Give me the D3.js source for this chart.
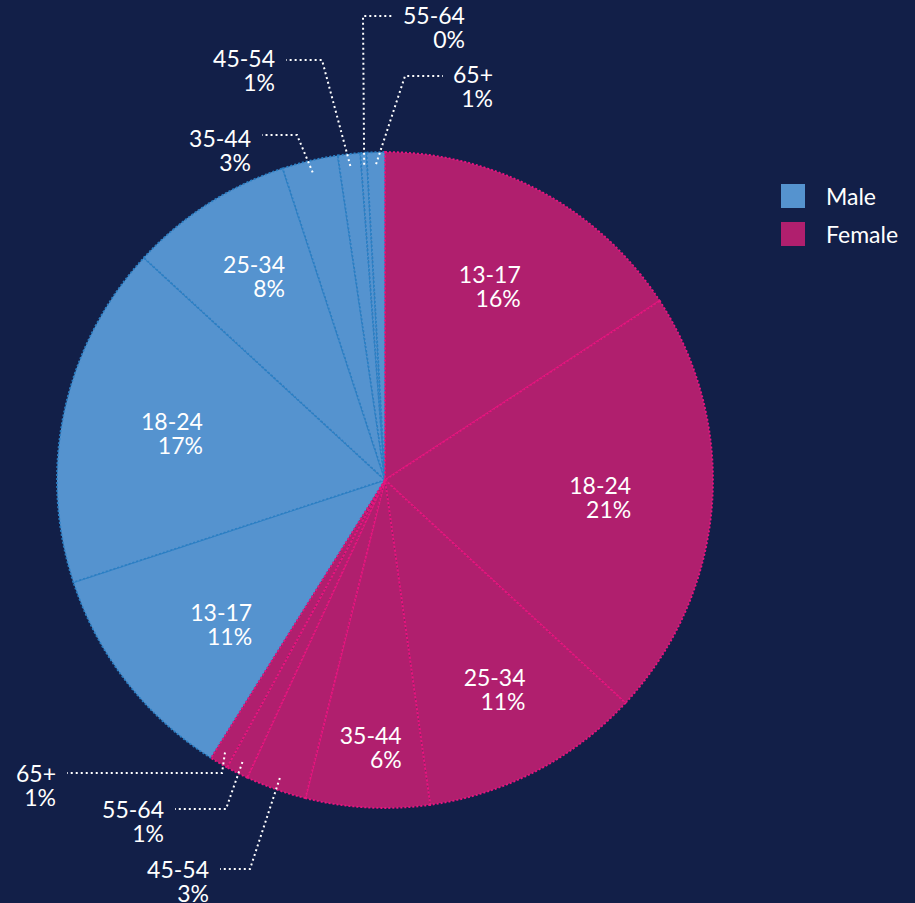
<!DOCTYPE html>
<html>
<head>
<meta charset="utf-8">
<script src="https://cdn.jsdelivr.net/npm/d3@7"></script>
<style>
  html, body { margin: 0; padding: 0; background: #121f48; }
  svg { display: block; }
  text { font-family: Lato, "Open Sans", sans-serif; font-size: 23px; fill: #ffffff; }
</style>
</head>
<body>
<svg width="915" height="903"></svg>
<script>
// chart data (share of audience, %)
var ageGroups = ["13-17", "18-24", "25-34", "35-44", "45-54", "55-64", "65+"];
var femaleShare = [15.8, 21.1, 10.9, 6.1, 3.0, 1.1, 0.9];
var maleShare = [11.05, 16.9, 8.1, 2.75, 1.1, 0.3, 0.9];
var genders = ["Male", "Female"];

var svg = d3.select("svg"),
    width = +svg.attr("width"),
    height = +svg.attr("height");

var cx = 385, cy = 480, radius = 328;

var color = d3.scaleOrdinal().domain(genders).range(["#5593cf", "#b01f6e"]);
var edge = d3.scaleOrdinal().domain(genders).range(["#2a7fc4", "#e8157f"]);

// flatten into slices, female first (starts at 12 o'clock), then male
var slices = [];
ageGroups.forEach(function (a, i) { slices.push({ gender: "Female", age: a, value: femaleShare[i] }); });
ageGroups.forEach(function (a, i) { slices.push({ gender: "Male", age: a, value: maleShare[i] }); });

var pie = d3.pie().sort(null).value(function (d) { return d.value; });
var arcs = pie(slices);
var arc = d3.arc().innerRadius(0).outerRadius(radius);

var g = svg.append("g").attr("transform", "translate(" + cx + "," + cy + ")");

// male first so the pink borders sit on top
var ordered = arcs.filter(function (d) { return d.data.gender === "Male"; })
  .concat(arcs.filter(function (d) { return d.data.gender === "Female"; }));

g.selectAll("path.slice")
  .data(ordered)
  .enter().append("path")
  .attr("class", "slice")
  .attr("d", arc)
  .attr("fill", function (d) { return color(d.data.gender); })
  .attr("stroke", function (d) { return edge(d.data.gender); })
  .attr("stroke-width", 1.8)
  .attr("stroke-dasharray", "2,2");

function key(d) { return d.data.gender + " " + d.data.age; }
function pct(d) { return Math.round(d.data.value) + "%"; }
function polar(r, a) { return [r * Math.sin(a), -r * Math.cos(a)]; }

// labels inside the big slices (radius per slice, da = angle nudge in degrees)
var innerLayout = {
  "Female 13-17": { r: 220 }, "Female 18-24": { r: 216 }, "Female 25-34": { r: 237 },
  "Female 35-44": { r: 268 }, "Male 13-17": { r: 219, da: -3.5 }, "Male 18-24": { r: 218 },
  "Male 25-34": { r: 242 }
};

// right aligned two-line block, one text element with a tspan per line
function block(sel, lines, anchorX, baseY, side) {
  var t = sel.append("text").attr("text-anchor", "end");
  var spans = lines.map(function (s, i) {
    return t.append("tspan").attr("y", baseY + i * 24).text(s);
  });
  var w = d3.max(spans, function (sp) { return sp.node().getComputedTextLength(); });
  var right = side === "start" ? anchorX + w : (side === "middle" ? anchorX + w / 2 : anchorX);
  spans.forEach(function (sp) { sp.attr("x", right); });
}

arcs.forEach(function (d) {
  var lay = innerLayout[key(d)];
  if (!lay) return;
  var a = (d.startAngle + d.endAngle) / 2 + (lay.da || 0) * Math.PI / 180;
  var p = polar(lay.r, a);
  block(g, [d.data.age, pct(d)], p[0], p[1] - 4, "middle");
});

// callouts for the small slices: elbow point and end of the horizontal run
var callouts = {
  "Male 35-44": { elbow: [-88, -345], endX: -123, ty: 12 },
  "Male 45-54": { elbow: [-63, -420], endX: -99, ty: 7 },
  "Male 55-64": { elbow: [-22, -464], endX: 8, ty: 8 },
  "Male 65+": { elbow: [20, -404], endX: 58, ty: 7 },
  "Female 65+": { elbow: [-163, 293], endX: -318, ty: 9 },
  "Female 55-64": { elbow: [-159, 329], endX: -210, ty: 9 },
  "Female 45-54": { elbow: [-135, 389], endX: -165, ty: 9 }
};

arcs.forEach(function (d) {
  var c = callouts[key(d)];
  if (!c) return;
  var a = (d.startAngle + d.endAngle) / 2;
  var s = polar(radius - 12, a);
  g.append("polyline")
    .attr("points", [s, c.elbow, [c.endX, c.elbow[1]]].map(function (p) { return p.join(","); }).join(" "))
    .attr("fill", "none")
    .attr("stroke", "#ffffff")
    .attr("stroke-width", 2)
    .attr("stroke-dasharray", "2,3");
  var right = c.endX > c.elbow[0];
  block(g, [d.data.age, pct(d)], right ? c.endX + 10 : c.endX - 11, c.elbow[1] + c.ty, right ? "start" : "end");
});

// legend
var legend = svg.append("g").attr("transform", "translate(781,184)");
var item = legend.selectAll("g")
  .data(genders)
  .enter().append("g")
  .attr("transform", function (d, i) { return "translate(0," + i * 38 + ")"; });
item.append("rect")
  .attr("width", 24).attr("height", 24)
  .attr("fill", function (d) { return color(d); });
item.append("text")
  .attr("x", 45).attr("y", 21)
  .text(function (d) { return d; });
</script>
</body>
</html>
